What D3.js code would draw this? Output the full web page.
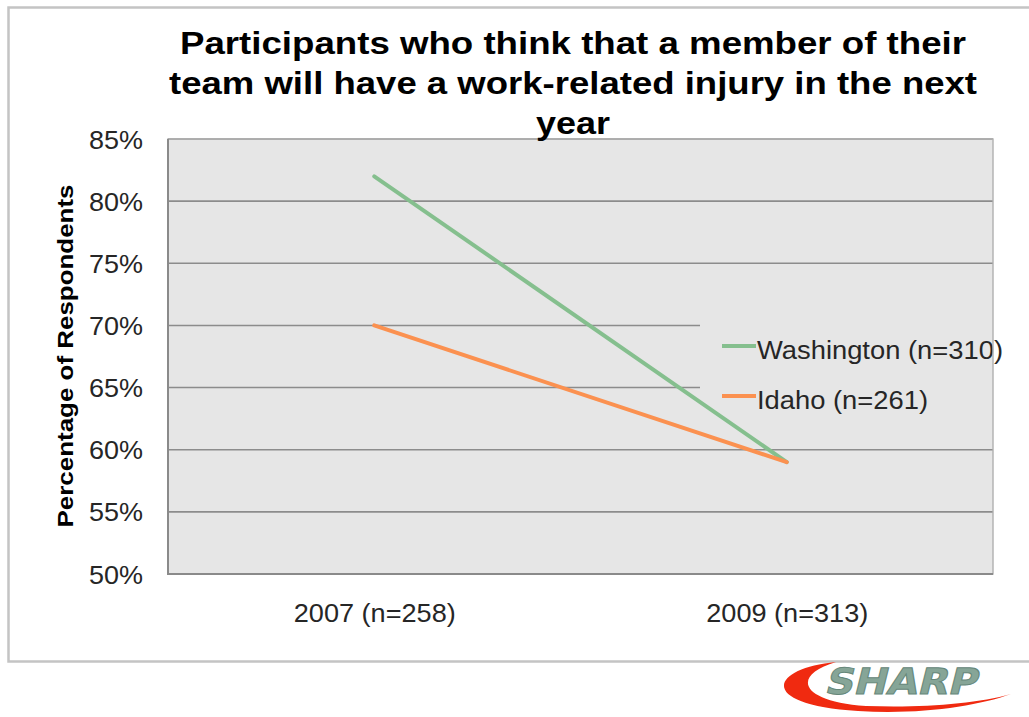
<!DOCTYPE html>
<html>
<head>
<meta charset="utf-8">
<script src="https://cdn.jsdelivr.net/npm/d3@7"></script>
<style>
  html, body { margin: 0; padding: 0; background: #fff; }
  svg { display: block; }
</style>
</head>
<body>
<svg id="chart" width="1029" height="717"></svg>
<script>
// ---- data ----
const categories = ["2007 (n=258)", "2009 (n=313)"];
const washington = [82, 59];
const idaho = [70, 59];
const seriesNames = ["Washington (n=310)", "Idaho (n=261)"];
const yTicks = [50, 55, 60, 65, 70, 75, 80, 85];
const titleLines = [
  "Participants who think that a member of their",
  "team will have a work-related injury in the next",
  "year"
];
const yTitle = "Percentage of Respondents";

// ---- layout ----
const svg = d3.select("#chart");
const font = "Liberation Sans, Arial, Helvetica, sans-serif";
const plot = { left: 168, right: 993, top: 139, bottom: 574 };
const colors = ["#85bf8e", "#fb9150"];

const x = d3.scalePoint().domain(categories).range([plot.left, plot.right]).padding(0.5);
const y = d3.scaleLinear().domain([50, 85]).range([plot.bottom, plot.top]);

// outer frame
svg.append("path")
  .attr("d", "M1040,661.5 H8.5 V7.5 H1040")
  .attr("fill", "none").attr("stroke", "#c4c4c4").attr("stroke-width", 2.5);

// plot background
svg.append("rect")
  .attr("x", plot.left).attr("y", plot.top)
  .attr("width", plot.right - plot.left).attr("height", plot.bottom - plot.top)
  .attr("fill", "#e6e6e6");

// gridlines
svg.append("g")
  .selectAll("line").data(yTicks.slice(1)).join("line")
  .attr("x1", plot.left).attr("x2", plot.right)
  .attr("y1", d => y(d)).attr("y2", d => y(d))
  .attr("stroke", "#8c8c8c").attr("stroke-width", 1.6);

// legend box (plot-coloured panel)
const legend = svg.append("g");
legend.append("rect")
  .attr("x", 700).attr("y", 300).attr("width", plot.right - 700).attr("height", 140)
  .attr("fill", "#e6e6e6");

// plot frame
svg.append("rect")
  .attr("x", plot.left).attr("y", plot.top)
  .attr("width", plot.right - plot.left).attr("height", plot.bottom - plot.top)
  .attr("fill", "none").attr("stroke", "#b0b0b0").attr("stroke-width", 1.4);
svg.append("path")
  .attr("d", `M${plot.left},${plot.top} V${plot.bottom} H${plot.right}`)
  .attr("fill", "none").attr("stroke", "#8a8a8a").attr("stroke-width", 2);

// y axis tick labels
const yAxis = d3.axisLeft(y).tickValues(yTicks).tickFormat(d => d + "%").tickSize(0).tickPadding(25);
const ya = svg.append("g").attr("transform", `translate(${plot.left},0)`).call(yAxis);
ya.select(".domain").remove();
ya.selectAll("text")
  .attr("font-family", font).attr("font-size", 25).attr("fill", "#262626")
  .attr("dy", "0.36em")
  .attr("textLength", 54).attr("lengthAdjust", "spacingAndGlyphs");

// x axis labels
const xAxis = d3.axisBottom(x).tickSize(0).tickPadding(0);
const xa = svg.append("g").attr("transform", `translate(0,${plot.bottom})`).call(xAxis);
xa.select(".domain").remove();
xa.selectAll("text")
  .attr("font-family", font).attr("font-size", 25).attr("fill", "#262626")
  .attr("y", 48).attr("dy", 0)
  .attr("textLength", 162).attr("lengthAdjust", "spacingAndGlyphs");

// series lines
const line = d3.line().x((d, i) => x(categories[i])).y(d => y(d));
[washington, idaho].forEach((vals, k) => {
  svg.append("path")
    .attr("d", line(vals))
    .attr("fill", "none").attr("stroke", colors[k])
    .attr("stroke-width", 4).attr("stroke-linecap", "round");
});

// legend entries
const legendRows = [
  { y: 346, base: 359, width: 246 },
  { y: 396, base: 409, width: 171 }
];
seriesNames.forEach((name, k) => {
  legend.append("line")
    .attr("x1", 722).attr("x2", 756)
    .attr("y1", legendRows[k].y).attr("y2", legendRows[k].y)
    .attr("stroke", colors[k]).attr("stroke-width", 4);
  legend.append("text")
    .attr("x", 757).attr("y", legendRows[k].base)
    .attr("font-family", font).attr("font-size", 26).attr("fill", "#262626")
    .attr("textLength", legendRows[k].width).attr("lengthAdjust", "spacingAndGlyphs")
    .text(name);
});

// title
const titleWidths = [786, 808, 74];
titleLines.forEach((t, i) => {
  svg.append("text")
    .attr("x", 573).attr("y", 54 + i * 40)
    .attr("text-anchor", "middle")
    .attr("font-family", font).attr("font-weight", "bold").attr("font-size", 32)
    .attr("fill", "#000")
    .attr("textLength", titleWidths[i]).attr("lengthAdjust", "spacingAndGlyphs")
    .text(t);
});

// y axis title
svg.append("text")
  .attr("transform", "translate(73,356) rotate(-90)")
  .attr("text-anchor", "middle")
  .attr("font-family", font).attr("font-weight", "bold").attr("font-size", 22)
  .attr("fill", "#000")
  .attr("textLength", 343).attr("lengthAdjust", "spacingAndGlyphs")
  .text(yTitle);

// SHARP logo
const logo = svg.append("g");
logo.append("path")
  .attr("d", "M836,662 C770,668 756,705 858,711 C920,715 978,706 1011,694 C976,704 922,708 866,706 C798,701 792,675 836,662 Z")
  .attr("fill", "#f02a10");
logo.append("text")
  .attr("transform", "translate(900,694) skewX(-14)")
  .attr("text-anchor", "middle")
  .attr("font-family", "DejaVu Sans, sans-serif").attr("font-weight", "bold").attr("font-size", 36)
  .attr("fill", "#86a597").attr("stroke", "#66877a").attr("stroke-width", 1)
  .attr("textLength", 152).attr("lengthAdjust", "spacingAndGlyphs")
  .text("SHARP");
</script>
</body>
</html>
